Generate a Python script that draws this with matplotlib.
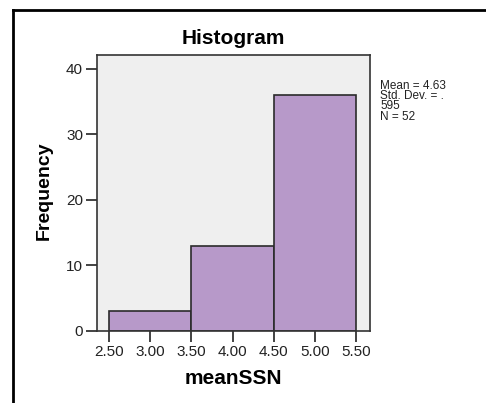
import matplotlib
matplotlib.use("Agg")
import matplotlib.pyplot as plt
from matplotlib.lines import Line2D

# histogram bins and counts
bin_edges = [2.5, 3.5, 4.5, 5.5]
counts = [3, 13, 36]
x_ticks = [2.5, 3.0, 3.5, 4.0, 4.5, 5.0, 5.5]
x_tick_labels = ["2.50", "3.00", "3.50", "4.00", "4.50", "5.00", "5.50"]
y_ticks = [0, 10, 20, 30, 40]
stats_text = "Mean = 4.63\nStd. Dev. = .\n595\nN = 52"

plt.rcParams["font.family"] = ["Liberation Sans", "DejaVu Sans"]

W, H = 486, 403
fig = plt.figure(figsize=(W / 100, H / 100), dpi=100)
ax_l, ax_r, ax_t, ax_b = 97, 370, 55, 331
ax = fig.add_axes([ax_l / W, 1 - ax_b / H, (ax_r - ax_l) / W, (ax_b - ax_t) / H])
ax.set_facecolor("#efefef")

widths = [b - a for a, b in zip(bin_edges[:-1], bin_edges[1:])]
ax.bar(bin_edges[:-1], counts, width=widths, align="edge",
       color="#b799c9", edgecolor="#2b2b2b", linewidth=1.2)

ax.set_xlim(2.354, 5.67)
ax.set_ylim(0, 42.1)
ax.set_xticks(x_ticks)
ax.set_xticklabels(x_tick_labels)
ax.set_yticks(y_ticks)
ax.tick_params(direction="out", length=8, width=1.2, labelsize=11,
               colors="#222222", pad=2)
for s in ax.spines.values():
    s.set_color("#333333")
    s.set_linewidth(1.2)

# title and axis labels placed at pixel positions measured on the reference
ax.set_title("Histogram", fontsize=15, fontweight="bold", pad=0,
             y=1 + (ax_t - 38) / (ax_b - ax_t), va="center")
ax.set_xlabel("meanSSN", fontsize=15, fontweight="bold")
ax.xaxis.set_label_coords(0.5, -(378 - ax_b) / (ax_b - ax_t))
ax.xaxis.label.set_va("center")
ax.set_ylabel("Frequency", fontsize=14, fontweight="bold")
ax.yaxis.set_label_coords(-(ax_l - 44) / (ax_r - ax_l), 0.51)
ax.yaxis.label.set_va("center")

fig.text(380 / W, 1 - 80 / H, stats_text, fontsize=8.5, va="top", ha="left",
         linespacing=0.8, color="#222222")

# outer frame (cut off at right and bottom in the reference)
fig.add_artist(Line2D([13 / W, 1], [1 - 10 / H, 1 - 10 / H], color="black", lw=2))
fig.add_artist(Line2D([13 / W, 13 / W], [1 - 10 / H, 0], color="black", lw=2))

fig.savefig("out.png", dpi=100)
